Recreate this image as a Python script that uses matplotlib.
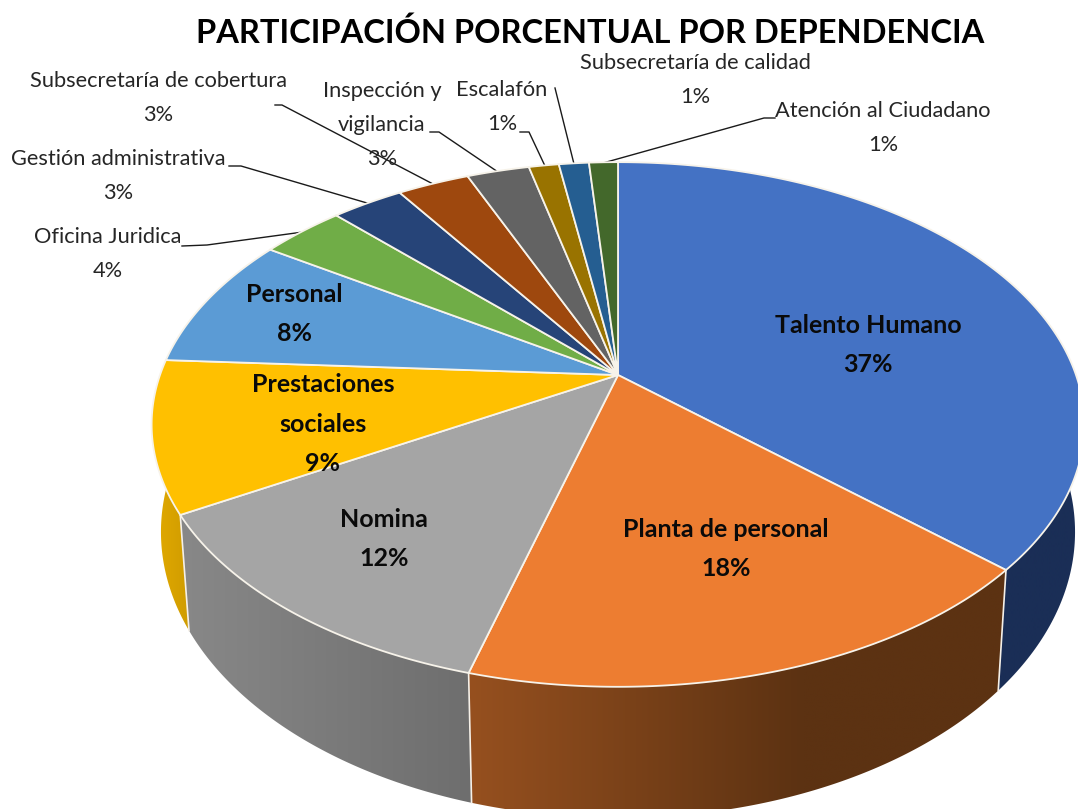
import matplotlib
matplotlib.use("Agg")
import matplotlib.pyplot as plt
import numpy as np
from matplotlib.colors import LinearSegmentedColormap
from matplotlib.patches import Polygon

# Chart data.
categories = ['Talento Humano', 'Planta de personal', 'Nomina', 'Prestaciones sociales',
              'Personal', 'Oficina Juridica', 'Gestión administrativa',
              'Subsecretaría de cobertura', 'Inspección y vigilancia', 'Escalafón',
              'Subsecretaría de calidad', 'Atención al Ciudadano']
shares = [36.75, 17.55, 12.35, 9.3, 8.25, 3.5, 3.0, 3.0, 2.6, 1.25, 1.25, 1.2]
percent_labels = ['37%', '18%', '12%', '9%', '8%', '4%', '3%', '3%', '3%', '1%', '1%', '1%']
top_colors = ['#4472c4', '#ed7d31', '#a5a5a5', '#ffc000', '#5b9bd5', '#70ad47',
              '#264478', '#9e480e', '#636363', '#997300', '#255e91', '#43682b']
wall_left = ['#1a2e56', '#96501f', '#888888', '#e3aa00', '#3f6d96', '#4f7a32',
             '#1a3055', '#70330a', '#464646', '#6c5100', '#1a4267', '#2f4a1e']
wall_right = ['#1a2e56', '#5c3212', '#6e6e6e', '#cf9c00', '#3f6d96', '#4f7a32',
              '#1a3055', '#70330a', '#464646', '#6c5100', '#1a4267', '#2f4a1e']

TITLE = 'PARTICIPACIÓN PORCENTUAL POR DEPENDENCIA'
FONT = 'Lato'


def project(theta, radius=1.0):
    """Perspective view of a point of the unit disc, in image pixels."""
    x = radius * np.sin(theta)
    y = radius * np.cos(theta)
    w = 1 + 0.1886 * y
    return 618 + 458 * x / w, 375 - 253 * y / w


def project_bottom(theta):
    """Same point on the lower rim of the pie."""
    px, py = project(theta)
    return 618 + 0.98 * (px - 618), 478 + 1.09 * (py - 375)


fig = plt.figure(figsize=(10.78, 8.09), dpi=100)
ax = fig.add_axes([0, 0, 1, 1])

edges = np.radians(np.concatenate([[0], np.cumsum(shares)]) * 3.6)

# Side walls first, the top faces cover whatever is behind.
for i in range(len(shares)):
    t = np.linspace(edges[i], edges[i + 1], 200)
    tx, ty = project(t)
    bx, by = project_bottom(t)
    outline = np.column_stack([np.r_[tx, bx[::-1]], np.r_[ty, by[::-1]]])
    # the orange wall is already dark well before its right end
    knee = 0.62 if i == 1 else 1.0
    cmap = LinearSegmentedColormap.from_list(
        'wall', [(0, wall_left[i]), (knee, wall_right[i]), (1, wall_right[i])])
    extent = [outline[:, 0].min(), outline[:, 0].max(), outline[:, 1].max(), outline[:, 1].min()]
    im = ax.imshow(np.linspace(0, 1, 256).reshape(1, -1), cmap=cmap, aspect='auto',
                   extent=extent, interpolation='bilinear', zorder=1)
    clip = Polygon(outline, closed=True, transform=ax.transData)
    im.set_clip_path(clip)
    # seam between two walls
    sx, sy = project(edges[i])
    ex, ey = project_bottom(edges[i])
    ax.plot([sx, ex], [sy, ey], color='#f5f0e8', lw=1.2, zorder=2)

# The slices themselves.
for i in range(len(shares)):
    t = np.linspace(edges[i], edges[i + 1], 200)
    tx, ty = project(t)
    ax.fill(np.r_[618, tx], np.r_[375, ty], facecolor=top_colors[i], edgecolor='#f7f3ea',
            lw=1.3, zorder=3, joinstyle='round')

# Large labels sitting on the slices.
inside = {
    0: (868, 345, 'Talento Humano'),
    1: (726, 549, 'Planta de personal'),
    2: (384, 539, 'Nomina'),
    3: (323, 424, 'Prestaciones\nsociales'),
    4: (294, 314, 'Personal'),
}
for i, (x, y, name) in inside.items():
    ax.text(x, y, name + '\n' + percent_labels[i], ha='center', va='center', fontsize=18,
            fontweight='bold', family=FONT, color='#0a0a0a', linespacing=1.85, zorder=5)

# Small labels around the pie, with leader lines (x, y, then line points).
outside = {
    5: (108, 254, [(182, 246), (207, 245), (303, 232)]),
    6: (118, 176, [(229, 166), (241, 166), (367, 203)]),
    7: (158, 98, [(275, 105), (282, 105), (433, 184)]),
    8: (382, 125, [(430, 132), (439, 132), (498, 172)]),
    9: (502, 107, [(520, 132), (529, 132), (545, 166)]),
    10: (695, 80, [(555, 88), (574, 164)]),
    11: (883, 128, [(775, 118), (764, 118), (603, 163)]),
}
names = {8: 'Inspección y\nvigilancia'}
for i, (x, y, pts) in outside.items():
    name = names.get(i, categories[i])
    ax.text(x, y, name + '\n' + percent_labels[i], ha='center', va='center', fontsize=15.7,
            family=FONT, color='#262626', linespacing=1.87, zorder=4)
    ax.plot([p[0] for p in pts], [p[1] for p in pts], color='#1a1a1a', lw=1.0, zorder=2.5)

ax.text(590, 33, TITLE, ha='center', va='center', fontsize=23.5, fontweight='bold',
        family=FONT, color='black', zorder=5)

ax.set_xlim(0, 1078)
ax.set_ylim(809, 0)
ax.axis('off')

fig.savefig('out.png', dpi=100, facecolor='white')
